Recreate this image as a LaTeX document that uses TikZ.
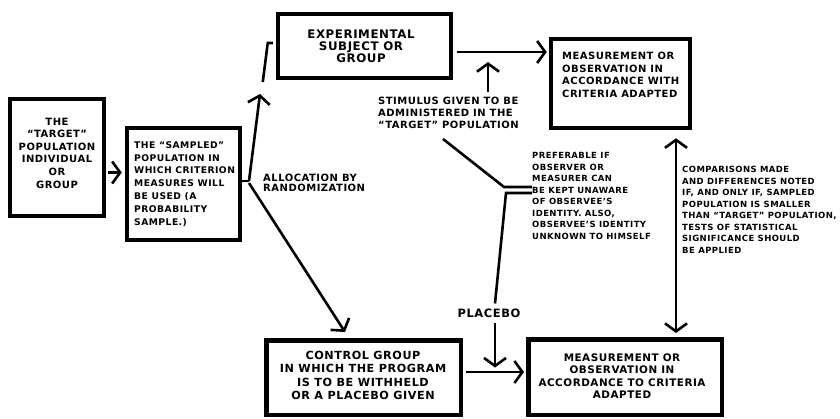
\documentclass[tikz,border=0pt]{standalone}
\usepackage{fontspec}
\setmainfont{DejaVu Sans}[LetterSpace=5]
\usetikzlibrary{arrows.meta,calc}

\tikzset{
  box/.style={draw, line width=4.5pt, inner sep=0pt},
  boxtext/.style={inner sep=0pt, font=\bfseries\fontsize{10}{12.6}\selectfont},
  note/.style={inner sep=0pt, align=left, font=\bfseries\fontsize{8.5}{11.5}\selectfont},
  conn/.style={line width=2.6pt},
  arr/.style={line width=2.6pt, -{Straight Barb[length=8pt,width=22pt]}},
}

\begin{document}
\begin{tikzpicture}[x=1pt,y=-1pt]
    \useasboundingbox (0,0) rectangle (840,418);
    %the six boxes
    \node[box, minimum width=94pt, minimum height=117pt] (target) at (57,157.5) {};
    \node[box, minimum width=113pt, minimum height=112pt] (sampled) at (183.5,184) {};
    \node[box, minimum width=173pt, minimum height=64pt] (exper) at (364.5,46) {};
    \node[box, minimum width=139pt, minimum height=89pt] (meas1) at (620.5,83.5) {};
    \node[box, minimum width=194.5pt, minimum height=74.5pt] (control) at (363.5,377.5) {};
    \node[box, minimum width=193.5pt, minimum height=75.5pt] (meas2) at (625,377) {};
    %what stands in them
    \node[boxtext, align=center] (targettxt) at (57,153) {THE\\``TARGET''\\POPULATION\\INDIVIDUAL\\OR\\GROUP};
    \node[boxtext, align=left, anchor=west, font=\bfseries\fontsize{9.2}{12.9}\selectfont] (sampledtxt) at (134,184) {THE ``SAMPLED''\\POPULATION IN\\WHICH CRITERION\\MEASURES WILL\\BE USED (A\\PROBABILITY\\SAMPLE.)};
    \node[boxtext, align=center, font=\bfseries\fontsize{11.8}{12}\selectfont] (expertxt) at (361,46) {EXPERIMENTAL\\SUBJECT OR\\GROUP};
    \node[boxtext, align=left, anchor=west] (meas1txt) at (562,75) {MEASUREMENT OR\\OBSERVATION IN\\ACCORDANCE WITH\\CRITERIA ADAPTED};
    \node[boxtext, align=center, font=\bfseries\fontsize{11.2}{13.5}\selectfont] (controltxt) at (363,375.5) {CONTROL GROUP\\IN WHICH THE PROGRAM\\IS TO BE WITHHELD\\OR A PLACEBO GIVEN};
    \node[boxtext, align=center, font=\bfseries\fontsize{10.4}{12.3}\selectfont] (meas2txt) at (622,376) {MEASUREMENT OR\\OBSERVATION IN\\ACCORDANCE TO CRITERIA\\ADAPTED};
    %the notes
    \node[note, anchor=west, font=\bfseries\fontsize{10}{12}\selectfont] (stim) at (378,113) {STIMULUS GIVEN TO BE\\ADMINISTERED IN THE\\``TARGET'' POPULATION};
    \node[note, anchor=west, font=\bfseries\fontsize{10}{10.5}\selectfont] (alloc) at (263,183) {ALLOCATION BY\\RANDOMIZATION};
    \node[note, anchor=west] (prefer) at (532,196) {PREFERABLE IF\\OBSERVER OR\\MEASURER CAN\\BE KEPT UNAWARE\\OF OBSERVEE'S\\IDENTITY. ALSO,\\OBSERVEE'S IDENTITY\\UNKNOWN TO HIMSELF};
    \node[note, anchor=west] (compare) at (682,210) {COMPARISONS MADE\\AND DIFFERENCES NOTED\\IF, AND ONLY IF, SAMPLED\\POPULATION IS SMALLER\\THAN ``TARGET'' POPULATION,\\TESTS OF STATISTICAL\\SIGNIFICANCE SHOULD\\BE APPLIED};
    \node[note, font=\bfseries\fontsize{11.5}{12}\selectfont] (placebo) at (489,313) {PLACEBO};
    %free ends
    \coordinate (split) at (249,181);
    \coordinate (uptip) at (260,94);
    \coordinate (downtip) at (345,332);
    \coordinate (bend) at (504,187);
    \coordinate (bend2) at (506,193);
    %connectors
    \draw[arr, shorten <=2pt, shorten >=3pt] ([yshift=-15pt]target.east) -- ([yshift=-15pt]target.east -| sampled.west);
    \draw[conn] (split -| sampled.east) -- (split);
    \draw[arr] (split) -- (uptip);
    \draw[conn] ($(exper.west)+(-13,36)$) -- ($(exper.west)+(-8,-3)$) -- ($(exper.west)+(-3,-3)$);
    \draw[arr] ([yshift=-2pt]split) -- (downtip);
    \draw[arr, shorten <=4pt, shorten >=2pt] ([yshift=-6pt]exper.east) -- ([yshift=-6pt]exper.east -| meas1.west);
    \draw[arr] ($(stim.north west)+(110,-5)$) -- ++(0,-30);
    \draw[conn] ($(stim.south west)+(65,10)$) -- (bend) -- (bend -| prefer.west);
    \draw[conn] (bend2 -| prefer.west) -- (bend2) -- ($(placebo.north)+(6,-5)$);
    \draw[arr] ($(placebo.south)+(6,5)$) -- ($(placebo.south)+(6,50)$);
    \draw[arr, shorten <=3pt, shorten >=2pt] ([yshift=5.5pt]control.east) -- ([yshift=5.5pt]control.east -| meas2.west);
    \draw[line width=2.6pt, {Straight Barb[length=8pt,width=22pt]}-{Straight Barb[length=8pt,width=22pt]}, shorten <=8pt, shorten >=4pt] ([xshift=51pt]meas1.south -| meas2.north) -- ([xshift=51pt]meas2.north);
\end{tikzpicture}
\end{document}
